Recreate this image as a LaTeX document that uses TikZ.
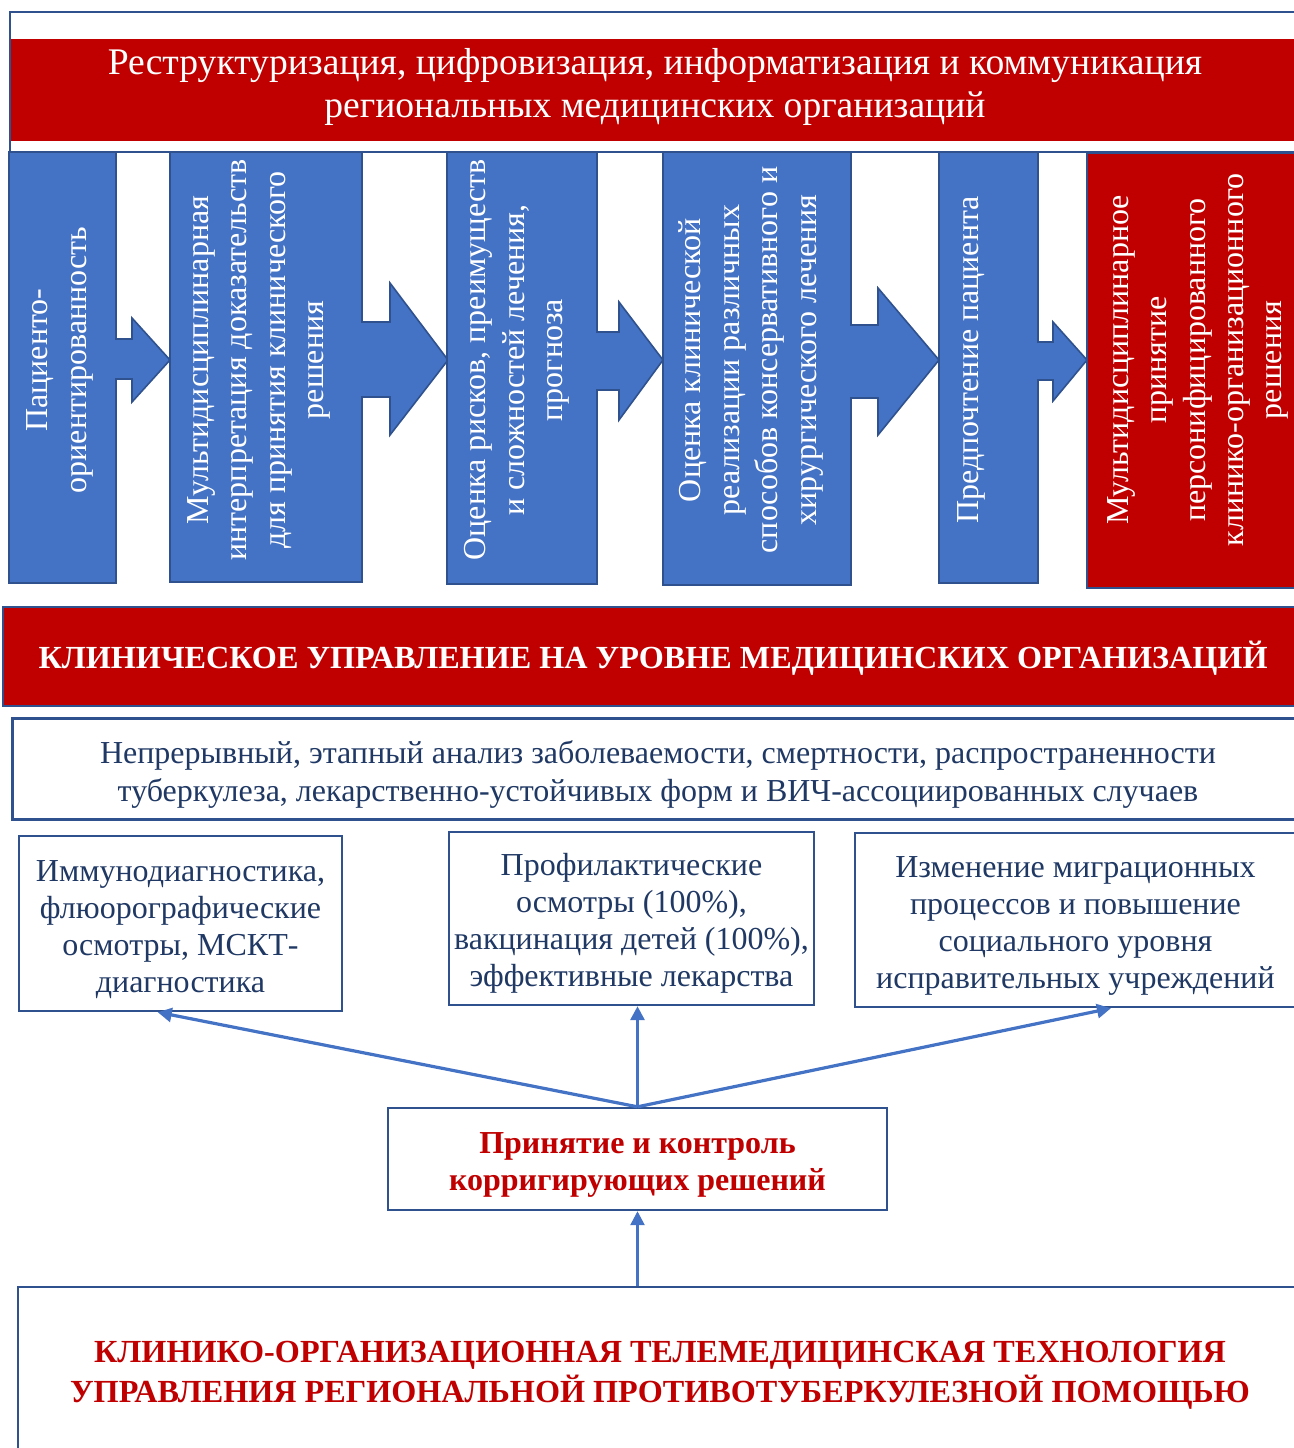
\documentclass[tikz,border=0pt]{standalone}
\usepackage{fontspec}
\setmainfont{Liberation Serif}
\usetikzlibrary{calc}
\usetikzlibrary{arrows.meta}
\usetikzlibrary{positioning}

\definecolor{bannerred}{HTML}{C00000}
\definecolor{calloutblue}{HTML}{4472C4}
\definecolor{edgeblue}{HTML}{2F528F}
\definecolor{navytext}{HTML}{1F3864}

\tikzset{
    callout/.style={fill=calloutblue, draw=edgeblue, line width=0.8pt, line join=miter},
    vtext/.style={rotate=90, text=white, align=center, inner sep=0pt,
        font=\fontsize{16}{19.2}\selectfont},
    infobox/.style={draw=edgeblue, line width=1.2pt, fill=white},
    boxtext/.style={align=center, text=navytext, inner sep=0pt,
        font=\fontsize{16}{18.5}\selectfont},
    flow/.style={calloutblue, line width=1.6pt, -{Triangle[length=7pt, width=7pt]}},
}

\begin{document}
\begin{tikzpicture}[x=0.5pt, y=-0.5pt]
    \useasboundingbox (0,0) rectangle (1294,1448);
    \clip (0,0) rectangle (1294,1448);

    % Constants
    \pgfmathsetmacro{\ctop}{152}
    \pgfmathsetmacro{\cmid}{360}

    % ---- Top banner ----
    \draw [edgeblue, line width=1pt] (10,12) rectangle (1320,\ctop);
    \fill [bannerred] (11,39) rectangle (1320,141);
    \node [text=white, align=center, font=\fontsize{18.8}{21.6}\selectfont] (title) at (655,87)
        {Реструктуризация, цифровизация, информатизация и коммуникация\\
         региональных медицинских организаций};

    % ---- Callouts (box + arrow to the right) ----
    \draw [callout] (9,\ctop) -- (116,\ctop) -- (116,339) -- (132,339) -- (132,318) -- (170,\cmid)
        -- (132,402) -- (132,379) -- (116,379) -- (116,583) -- (9,583) -- cycle;
    \draw [callout] (170,\ctop) -- (362,\ctop) -- (362,322) -- (390,322) -- (390,283) -- (448,\cmid)
        -- (390,435) -- (390,397) -- (362,397) -- (362,582) -- (170,582) -- cycle;
    \draw [callout] (447,\ctop) -- (597,\ctop) -- (597,332) -- (619,332) -- (619,302) -- (663,\cmid)
        -- (619,420) -- (619,390) -- (597,390) -- (597,584) -- (447,584) -- cycle;
    \draw [callout] (663,\ctop) -- (851,\ctop) -- (851,325) -- (878,325) -- (878,288) -- (939,\cmid)
        -- (878,435) -- (878,398) -- (851,398) -- (851,585) -- (663,585) -- cycle;
    \draw [callout] (939,\ctop) -- (1038,\ctop) -- (1038,342) -- (1053,342) -- (1053,322) -- (1087,\cmid)
        -- (1053,401) -- (1053,380) -- (1038,380) -- (1038,583) -- (939,583) -- cycle;
    % last step is red
    \draw [fill=bannerred, draw=edgeblue, line width=0.8pt] (1087,153) rectangle (1320,588);

    \node [vtext] (patient) at (60,\cmid) {Пациенто-\\ориентированность};
    \node [vtext] (multi) at (259,\cmid) {Мультидисциплинарная\\интерпретация доказательств\\для принятия клинического\\решения};
    \node [vtext] (risks) at (517,\cmid) {Оценка рисков, преимуществ\\и сложностей лечения,\\прогноза};
    \node [vtext] (methods) at (751,\cmid) {Оценка клинической\\реализации различных\\способов консервативного и\\хирургического лечения};
    \node [vtext] (prefer) at (971,\cmid) {Предпочтение пациента};
    \node [vtext] (decide) at (1198,\cmid) {Мультидисциплинарное\\принятие\\персонифицированного\\клинико-организационного\\решения};

    % ---- Clinical management ----
    \draw [fill=bannerred, draw=edgeblue, line width=1.2pt] (3,607) rectangle (1320,706);
    \node [text=white, font=\fontsize{16.1}{18}\selectfont\bfseries] (mgmt) at (653,658)
        {КЛИНИЧЕСКОЕ УПРАВЛЕНИЕ НА УРОВНЕ МЕДИЦИНСКИХ ОРГАНИЗАЦИЙ};

    \draw [edgeblue, line width=1.5pt] (12,718) rectangle (1320,819);
    \node [text=navytext, align=center, font=\fontsize{16}{19}\selectfont] (analysis) at (658,774)
        {Непрерывный, этапный анализ заболеваемости, смертности, распространенности\\
         туберкулеза, лекарственно-устойчивых форм и ВИЧ-ассоциированных случаев};

    % ---- Measures ----
    \node [infobox, minimum width=161.5pt, minimum height=87.5pt] (immuno) at (180.5,923.5) {};
    \node [infobox, minimum width=182.5pt, minimum height=86.5pt] (prevent) at (631.5,918.5) {};
    \node [infobox, minimum width=220.5pt, minimum height=87pt] (social) at (1075.5,920) {};

    \node [boxtext] (immunotext) at ($(immuno.center)+(0,6)$)
        {Иммунодиагностика,\\флюорографические\\осмотры, МСКТ-\\диагностика};
    \node [boxtext] (preventtext) at ($(prevent.center)+(0,5)$)
        {Профилактические\\осмотры (100\%),\\вакцинация детей (100\%),\\эффективные лекарства};
    \node [boxtext] (socialtext) at ($(social.center)+(0,6)$)
        {Изменение миграционных\\процессов и повышение\\социального уровня\\исправительных учреждений};

    % ---- Decisions ----
    \node [infobox, minimum width=249.5pt, minimum height=51pt] (control) at (637.5,1159) {};
    \node [boxtext, text=bannerred, font=\fontsize{16}{18.5}\selectfont\bfseries] (controltext)
        at ($(control.center)+(0,6)$) {Принятие и контроль\\корригирующих решений};

    \node [infobox, minimum width=651pt, minimum height=88pt] (tech) at (669,1375) {};
    \node [boxtext, text=bannerred, font=\fontsize{16.1}{20}\selectfont\bfseries] (techtext)
        at (660,1375)
        {КЛИНИКО-ОРГАНИЗАЦИОННАЯ ТЕЛЕМЕДИЦИНСКАЯ ТЕХНОЛОГИЯ\\
         УПРАВЛЕНИЯ РЕГИОНАЛЬНОЙ ПРОТИВОТУБЕРКУЛЕЗНОЙ ПОМОЩЬЮ};

    % arrow ends on the boxes
    \coordinate (immunoEnd) at ($(immuno.south west)!0.43!(immuno.south east)$);
    \coordinate (socialEnd) at ($(social.south west)!0.58!(social.south east)$);

    \draw [flow] (control.north) -- (immunoEnd);
    \draw [flow] (control.north) -- (control.north |- prevent.south);
    \draw [flow] (control.north) -- (socialEnd);
    \draw [flow, line width=1.3pt] (control.south |- tech.north) -- (control.south);

\end{tikzpicture}
\end{document}
